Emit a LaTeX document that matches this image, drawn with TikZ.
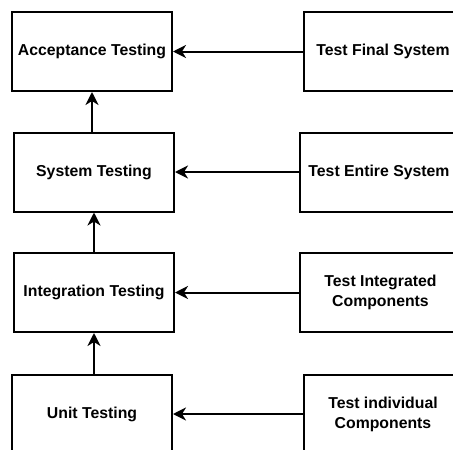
\documentclass[tikz,border=0pt]{standalone}
\usepackage{fontspec}
\setmainfont{Liberation Sans}
\usetikzlibrary{arrows.meta}
\begin{document}
\begin{tikzpicture}[x=1pt,y=-1pt,
  box/.style={draw=black,line width=2pt,fill=white,minimum width=160pt,minimum height=79pt,
    inner sep=0pt,align=center,font=\fontsize{15.8}{20}\selectfont\bfseries},
  conn/.style={line width=2pt,-{Stealth[length=13pt,width=13pt,inset=4pt]}}]
\useasboundingbox (0,0) rectangle (453,450);
\fill[white] (0,0) rectangle (453,450);
\node[box] (acc) at (92,51.5) {Acceptance Testing};
\node[box] (sys) at (94,172) {System Testing};
\node[box] (int) at (94,292.5) {Integration Testing};
\node[box] (unit) at (92,414) {Unit Testing};
\node[box,minimum width=158pt] (tfs) at (383,51.5) {Test Final System};
\node[box,minimum width=158pt] (tes) at (379,172) {Test Entire System};
\node[box,minimum width=161pt] (tic) at (380.5,292.5) {Test Integrated\\Components};
\node[box,minimum width=158pt] (tid) at (383,414) {Test individual\\Components};
\draw[conn] (tfs.west) -- (acc.east);
\draw[conn] (tes.west) -- (sys.east);
\draw[conn] (tic.west) -- (int.east);
\draw[conn] (tid.west) -- (unit.east);
\draw[conn] (sys.north -| 92,0) -- (acc.south);
\draw[conn] (int.north) -- (sys.south);
\draw[conn] (unit.north -| int.north) -- (int.south);
\end{tikzpicture}
\end{document}
